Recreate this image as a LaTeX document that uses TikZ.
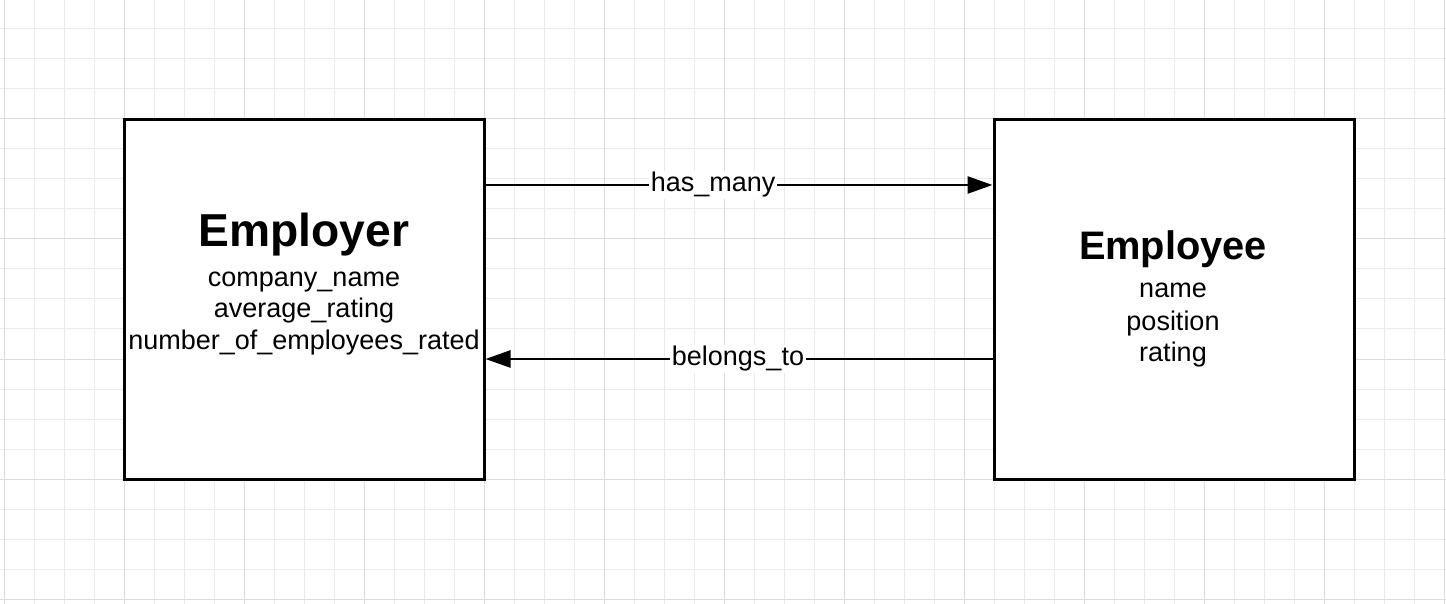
\documentclass[tikz,border=0pt]{standalone}
\usepackage{fontspec}
\setmainfont{Liberation Sans}
\usetikzlibrary{arrows.meta}
\definecolor{gridminor}{HTML}{EBEBEB}
\definecolor{gridmajor}{HTML}{DCDCDC}

\begin{document}
\begin{tikzpicture}[x=0.5pt,y=-0.5pt]
\tikzset{
  minorline/.style={gridminor,line width=0.5pt},
  majorline/.style={gridmajor,line width=0.5pt},
  entity/.style={draw,fill=white,line width=1.5pt,minimum width=180pt,minimum height=179.5pt,inner sep=0pt},
  title/.style={anchor=base,font=\bfseries\fontsize{23.1}{26}\selectfont,inner sep=0pt},
  etitle/.style={title,font=\bfseries\fontsize{19.9}{23}\selectfont},
  attr/.style={anchor=base,font=\fontsize{13.5}{16}\selectfont,inner sep=0pt},
  rel/.style={line width=1.3pt,-{Triangle[length=12.5pt,width=8.5pt]}},
  lbl/.style={fill=white,inner xsep=1pt,inner ysep=0.5pt,font=\fontsize{13.5}{16}\selectfont}
}
\useasboundingbox (0,0) rectangle (1446,604);
\fill[white] (0,0) rectangle (1446,604);
\foreach \gx in {4,34,...,1444} \draw[minorline] (\gx,0) -- (\gx,604);
\foreach \gy in {29,59,...,599} \draw[minorline] (0,\gy) -- (1446,\gy);
\foreach \gx in {4,124,...,1444} \draw[majorline] (\gx,0) -- (\gx,604);
\foreach \gy in {119,239,...,599} \draw[majorline] (0,\gy) -- (1446,\gy);

\node[entity] (employer) at (304,299.5) {};
\node[entity] (employee) at (1174,299.5) {};

\node[title] (employertitle) at (304,247) {Employer};
\node[attr] (companyname) at (304,286) {company\_name};
\node[attr] (averagerating) at (304,318) {average\_rating};
\node[attr] (numberrated) at (304,350) {number\_of\_employees\_rated};

\node[etitle] (employeetitle) at (1173,260) {Employee};
\node[attr] (name) at (1173,298) {name};
\node[attr] (position) at (1173,330) {position};
\node[attr] (rating) at (1173,362) {rating};

\draw[rel] ([yshift=57.25pt]employer.east) -- node[lbl,pos=0.449] (hasmany) {has\_many} ([yshift=57.25pt]employee.west);
\draw[rel] ([yshift=-29.75pt]employee.west) -- node[lbl,pos=0.502] (belongsto) {belongs\_to} ([yshift=-29.75pt]employer.east);
\end{tikzpicture}
\end{document}
